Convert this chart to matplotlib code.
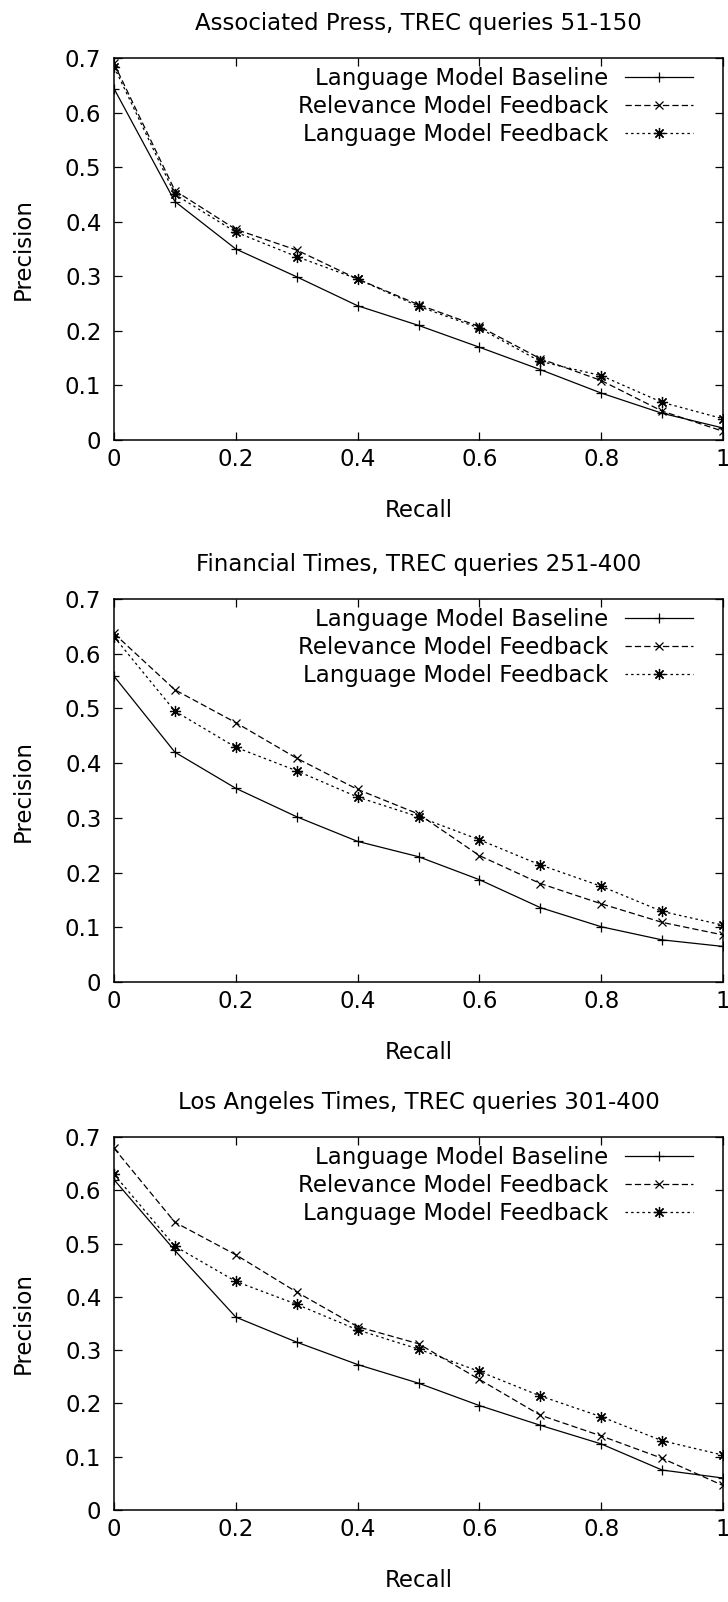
import matplotlib
matplotlib.use("Agg")
import matplotlib.pyplot as plt

plt.rcParams['font.family'] = ['DejaVu Sans']

# ---------------- data ----------------
recall = [0.0, 0.1, 0.2, 0.3, 0.4, 0.5, 0.6, 0.7, 0.8, 0.9, 1.0]

series_labels = ["Language Model Baseline", "Relevance Model Feedback", "Language Model Feedback"]

titles = ["Associated Press, TREC queries 51-150",
          "Financial Times, TREC queries 251-400",
          "Los Angeles Times, TREC queries 301-400"]

ap_baseline = [0.644, 0.437, 0.350, 0.299, 0.246, 0.210, 0.170, 0.129, 0.086, 0.049, 0.022]
ap_rm       = [0.690, 0.457, 0.386, 0.348, 0.295, 0.248, 0.208, 0.149, 0.109, 0.053, 0.016]
ap_lm       = [0.684, 0.450, 0.381, 0.336, 0.295, 0.245, 0.205, 0.144, 0.118, 0.069, 0.039]

ft_baseline = [0.559, 0.420, 0.354, 0.302, 0.257, 0.229, 0.187, 0.136, 0.101, 0.077, 0.065]
ft_rm       = [0.637, 0.534, 0.474, 0.409, 0.352, 0.307, 0.231, 0.180, 0.143, 0.109, 0.086]
ft_lm       = [0.631, 0.495, 0.429, 0.386, 0.338, 0.302, 0.260, 0.214, 0.175, 0.129, 0.104]

la_baseline = [0.620, 0.487, 0.362, 0.315, 0.273, 0.238, 0.196, 0.159, 0.124, 0.075, 0.060]
la_rm       = [0.679, 0.540, 0.479, 0.409, 0.344, 0.312, 0.245, 0.178, 0.139, 0.097, 0.046]
la_lm       = [0.630, 0.495, 0.429, 0.386, 0.338, 0.302, 0.260, 0.214, 0.175, 0.130, 0.103]

x_ticks = [0.0, 0.2, 0.4, 0.6, 0.8, 1.0]
x_ticklabels = ["0", "0.2", "0.4", "0.6", "0.8", "1"]
y_ticks = [0.0, 0.1, 0.2, 0.3, 0.4, 0.5, 0.6, 0.7]
y_ticklabels = ["0", "0.1", "0.2", "0.3", "0.4", "0.5", "0.6", "0.7"]

panels = [
    (ap_baseline, ap_rm, ap_lm),
    (ft_baseline, ft_rm, ft_lm),
    (la_baseline, la_rm, la_lm),
]

# ---------------- layout ----------------
W, H = 728, 1602
fig = plt.figure(figsize=(W / 100, H / 100), dpi=100)

ax_left, ax_right = 114, 723
ax_boxes = [(58, 440), (599, 982), (1137, 1510)]

FS = 16.5
styles = [
    dict(linestyle='-', marker='+', markersize=7, markeredgewidth=0.9),
    dict(linestyle=(0, (5, 2.5)), marker='x', markersize=6, markeredgewidth=0.9),
    dict(linestyle=(0, (2, 2.5)), marker=(8, 2, 0), markersize=8, markeredgewidth=0.9),
]

for (title, data, (top, bot)) in zip(titles, panels, ax_boxes):
    ax_h = bot - top
    ax = fig.add_axes([ax_left / W, 1 - bot / H,
                       (ax_right - ax_left) / W, ax_h / H])
    for lab, vals, st in zip(series_labels, data, styles):
        ax.plot(recall, vals, color='black', linewidth=0.9, label=lab, **st)
    ax.set_xlim(0, 1)
    ax.set_ylim(0, 0.7)
    ax.set_xticks(x_ticks)
    ax.set_xticklabels(x_ticklabels)
    ax.set_yticks(y_ticks)
    ax.set_yticklabels(y_ticklabels)
    ax.tick_params(direction='in', length=6, width=0.9, top=True, right=True,
                   labelsize=FS, colors='black')
    ax.tick_params(axis='x', pad=6)
    ax.tick_params(axis='y', pad=9)
    for sp in ax.spines.values():
        sp.set_linewidth(1.1)
    ax.set_title(title, fontsize=FS, pad=20)
    ax.set_xlabel("Recall", fontsize=FS, labelpad=20)
    ax.set_ylabel("Precision", fontsize=FS, labelpad=22)
    ax.legend(loc='upper right',
              bbox_to_anchor=(1 - 30 / (ax_right - ax_left), 1 - 9 / ax_h),
              frameon=False, fontsize=FS, markerfirst=False,
              handlelength=2.95, handletextpad=0.75, labelspacing=0.22,
              borderpad=0, borderaxespad=0, numpoints=1)

fig.savefig("out.png", dpi=100)
